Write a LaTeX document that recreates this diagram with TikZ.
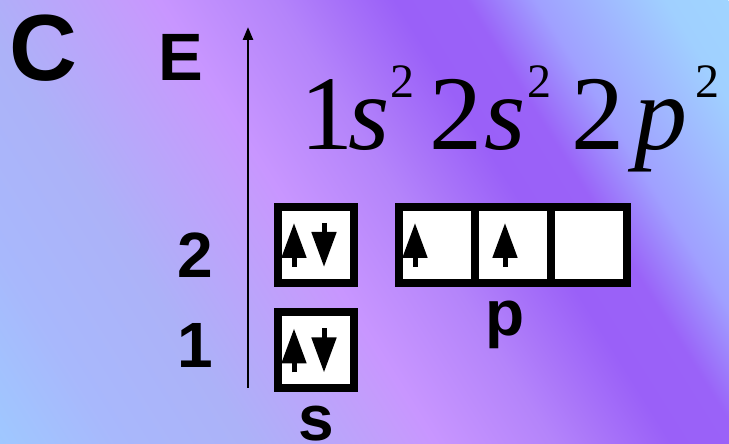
\documentclass[tikz,border=0pt]{standalone}
\usepackage{fontspec}
\setmainfont{Liberation Sans}
\newfontfamily\serifform{Liberation Serif}
\usetikzlibrary{arrows.meta,positioning}

\definecolor{bgA}{HTML}{9FC8FF}
\definecolor{bgB}{HTML}{A8B8FC}
\definecolor{bgC}{HTML}{ACB2F8}
\definecolor{bgD}{HTML}{C49CFC}
\definecolor{bgE}{HTML}{C896FF}
\definecolor{bgF}{HTML}{B484FA}
\definecolor{bgG}{HTML}{9A60F8}
\definecolor{bgH}{HTML}{9A62F8}
\definecolor{bgI}{HTML}{A0A0FF}
\definecolor{bgJ}{HTML}{A0D0FF}
\definecolor{bgK}{HTML}{A0D4FF}

\pgfdeclarehorizontalshading{bgshade}{100bp}{color(0bp)=(bgA); color(25bp)=(bgA);
  color(30.86bp)=(bgB); color(37.31bp)=(bgC); color(44.93bp)=(bgD); color(46.69bp)=(bgE);
  color(52.55bp)=(bgF); color(58.41bp)=(bgG); color(61.93bp)=(bgH); color(65.44bp)=(bgI);
  color(71.89bp)=(bgJ); color(75bp)=(bgK); color(100bp)=(bgK)}

% superscript of the configuration
\newcommand{\supr}[1]{\raisebox{52pt}{\fontsize{48}{48}\selectfont #1}}

\begin{document}
\begin{tikzpicture}[x=1pt, y=1pt,
      box/.style={draw, fill=white, line width=8pt, minimum size=76pt, inner sep=0pt, outer sep=0pt},
      spin/.style={line width=5pt, -{Triangle[width=24pt,length=35pt]}},
      lbl/.style={font=\fontsize{64}{64}\selectfont\bfseries, inner sep=0pt, anchor=base},
      axis/.style={line width=2.5pt, -{Triangle[width=10pt,length=13pt]}}
    ]
      \useasboundingbox (0,0) rectangle (729,444);
      \begin{scope}
        \clip (0,0) rectangle (729,444);
        \shade[shading=bgshade, transform canvas={rotate=32}] (0,-390) rectangle (853,380);
      \end{scope}

      \node[font=\fontsize{94}{94}\selectfont\bfseries, inner sep=0pt, anchor=base] (clbl) at (43,363) {C};
      \node[font=\fontsize{67}{67}\selectfont\bfseries, inner sep=0pt, anchor=base] (elbl) at (181,363) {E};

      % energy axis
      \coordinate (axbot) at (248,56);
      \coordinate (axtop) at (248,417);
      \draw[axis] (axbot) -- (axtop);

      \node[anchor=base west, inner sep=0pt, font=\serifform\fontsize{106}{106}\selectfont] (config) at (300,294)
        {1\hspace{-5pt}\textit{s}\hspace{1pt}\supr{2}\hspace{15pt}2\hspace{2pt}\textit{s}\hspace{2pt}\supr{2}\hspace{20pt}2\hspace{10pt}\textit{p}\hspace{8pt}\supr{2}};

      % orbital boxes
      \node[box] (s2) at (316,199) {};
      \node[box, below=29.5pt of s2] (s1) {};
      \node[box, right=45pt of s2] (p1) {};
      \node[box, right=0pt of p1] (p2) {};
      \node[box, right=0pt of p2] (p3) {};

      \node[lbl] (lvl2) at (195,166) {2};
      \node[lbl] (lvl1) at (195,76) {1};
      \node[lbl] (slbl) at (316,3) {s};
      \node[lbl] (plbl) at (505,108) {p};

      % electrons
      \draw[spin] ([shift={(-22,-22)}]s1.center) -- ([shift={(-22,22)}]s1.center);
      \draw[spin] ([shift={(8,22)}]s1.center) -- ([shift={(8,-22)}]s1.center);
      \draw[spin] ([shift={(-22,-22)}]s2.center) -- ([shift={(-22,22)}]s2.center);
      \draw[spin] ([shift={(8,22)}]s2.center) -- ([shift={(8,-22)}]s2.center);
      \draw[spin] ([shift={(-22,-22)}]p1.center) -- ([shift={(-22,22)}]p1.center);
      \draw[spin] ([shift={(-8,-22)}]p2.center) -- ([shift={(-8,22)}]p2.center);
    \end{tikzpicture}
\end{document}
